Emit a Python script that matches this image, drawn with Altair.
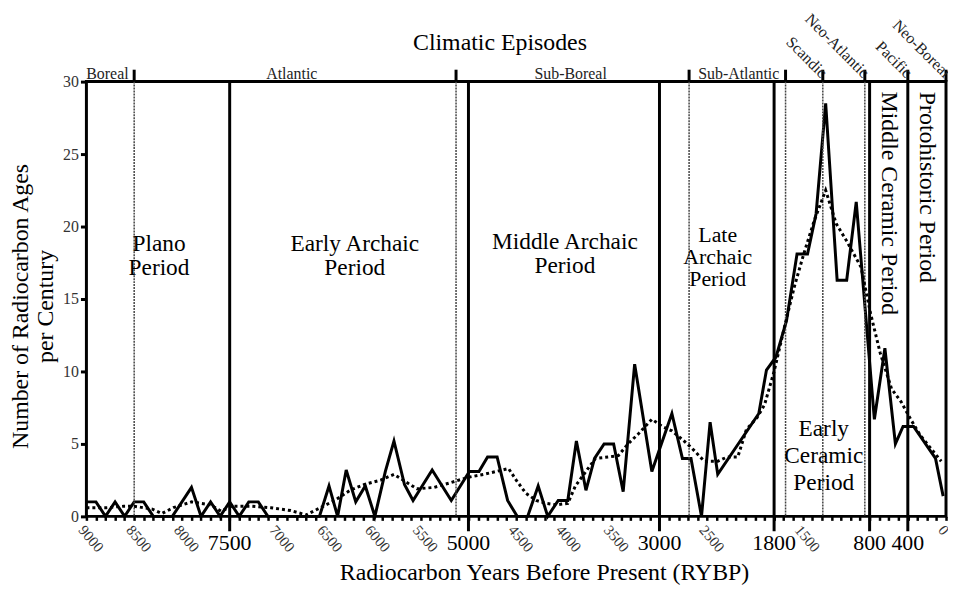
import altair as alt
import pandas as pd

SERIF = "Liberation Serif"

# ---- data ----
solid_years = [9000, 8900, 8800, 8700, 8600, 8500, 8400, 8300, 8100, 7900, 7800, 7700, 7600,
               7500, 7400, 7300, 7200, 7100, 6560, 6460, 6370, 6280, 6180, 6080, 5980, 5870,
               5780, 5670, 5580, 5380, 5180, 4990, 4890, 4800, 4700, 4590, 4490, 4380, 4270,
               4170, 4060, 3960, 3870, 3770, 3680, 3580, 3480, 3380, 3260, 3080, 2870, 2760,
               2670, 2560, 2470, 2390, 1960, 1880, 1780, 1670, 1560, 1450, 1360, 1260, 1140,
               1040, 940, 750, 640, 530, 450, 340, 110, 30]
solid_values = [1, 1, 0, 1, 0, 1, 1, 0, 0, 2, 0, 1, 0,
                1, 0, 1, 1, 0, 0, 2.1, 0, 3.2, 1.0, 2.1, 0, 3.1,
                5.2, 2.2, 1.1, 3.2, 1.1, 3.1, 3.1, 4.1, 4.1, 1.1, 0, 0, 2.1,
                0, 1.1, 1.1, 5.2, 1.8, 4.0, 5.0, 5.0, 1.7, 10.5, 3.1, 7.1, 4.0,
                4.0, 0, 6.5, 2.9, 7.1, 10.1, 11.0, 13.5, 18.1, 18.1, 20.9, 28.5, 16.3,
                16.3, 21.7, 6.7, 11.6, 5.0, 6.2, 6.2, 4.0, 1.4]

trend_years = [9000, 8790, 8610, 8500, 8310, 8210, 8090, 7900, 7700, 7590, 7480, 7270, 7070,
               6860, 6700, 6550, 6400, 6240, 6090, 5920, 5780, 5660, 5540, 5360, 5200, 5000,
               4840, 4710, 4580, 4500, 4400, 4290, 4190, 4080, 3960, 3880, 3770, 3670, 3530,
               3430, 3330, 3220, 3080, 2970, 2870, 2760, 2660, 2530, 2390, 2290, 2180, 2090,
               1980, 1900, 1800, 1690, 1590, 1490, 1380, 1260, 1150, 1040, 890, 790, 690,
               570, 470, 370, 270, 160, 50]
trend_values = [0.6, 0.6, 0.7, 0.7, 0.5, 0.2, 0.6, 1.0, 0.8, 0.35, 0.7, 0.7, 0.6,
                0.4, 0.1, 0.6, 1.1, 1.8, 2.2, 2.5, 2.9, 2.4, 1.9, 2.0, 2.3, 2.7,
                2.9, 3.1, 3.3, 2.5, 1.6, 1.1, 0.9, 0.8, 0.9, 2.1, 3.1, 4.0, 4.1,
                4.2, 5.0, 5.7, 6.7, 6.2, 5.9, 5.3, 4.7, 3.8, 3.8, 4.1, 4.1, 6.0,
                6.8, 7.7, 10.0, 13.1, 15.8, 18.1, 20.4, 22.5, 20.2, 19.0, 17.2, 14.0, 11.3,
                8.8, 7.9, 6.7, 5.6, 4.7, 3.8]

period_bounds = [7500, 5000, 3000, 1800, 800, 400]          # solid lines, big labels
climate_bounds = [8500, 5130, 2690, 1680, 1290, 850]        # dotted lines
climate_ticks = [8500, 5130, 2690, 1680, 1290, 850, 400, 0]
minor_label_years = [9000, 8500, 8000, 7000, 6500, 6000, 5500, 4500, 4000, 3500, 2500, 1500, 0]
y_ticks = [0, 5, 10, 15, 20, 25, 30]

climate_names = ["Boreal", "Atlantic", "Sub-Boreal", "Sub-Atlantic"]
climate_name_years = [8780, 6850, 3930, 2170]
climate_rot_names = ["Scandic", "Neo-Atlantic", "Pacific", "Neo-Boreal"]
climate_rot_years = [1290, 850, 400, 0]
header_text = ["Climatic Episodes"]
header_year = [4670]

period_names = ["Plano\nPeriod", "Early Archaic\nPeriod", "Middle Archaic\nPeriod"]
period_years = [8240, 6190, 3990]
period_vals = [18.8, 18.8, 18.95]
late_name = ["Late\nArchaic\nPeriod"]
late_year = [2390]
late_val = [19.4]
ceramic_name = ["Early\nCeramic\nPeriod"]
ceramic_year = [1280]
ceramic_val = [6.0]
rot_period_names = ["Middle Ceramic Period", "Protohistoric Period"]
rot_period_years = [600, 200]
rot_period_vals = [21.6, 22.7]

W, H = 866, 438

solid = pd.DataFrame({"yr": solid_years, "v": solid_values})
trend = pd.DataFrame({"yr": trend_years, "v": trend_values})

xscale = alt.Scale(domain=[0, 9000], reverse=True, nice=False, zero=False)
yscale = alt.Scale(domain=[0, 30], nice=False)

label_test = "indexof([" + ",".join(str(v) for v in minor_label_years) + "], datum.value) >= 0 ? datum.label : ''"

x_axis = alt.Axis(values=list(range(0, 9001, 100)), format="d", tickSize=4, tickWidth=2.5,
                  tickColor="black", labelExpr=label_test, labelAngle=50, labelAlign="left",
                  labelBaseline="top", labelFontSize=15, labelFont=SERIF, labelColor="#333",
                  labelPadding=2, labelOverlap=False, labelFlush=False, domain=False, grid=False,
                  title="Radiocarbon Years Before Present (RYBP)", titleFont=SERIF,
                  titleFontSize=24, titleFontWeight="normal", titleColor="black",
                  titleX=461, titleY=57, titleAlign="center", titleBaseline="middle")
y_axis = alt.Axis(values=y_ticks, tickSize=6, tickWidth=3, tickColor="black",
                  labelFontSize=16, labelFont=SERIF, labelColor="#333", labelPadding=2,
                  domain=False, grid=False,
                  title=["Number of Radiocarbon Ages", "per Century"], titleFont=SERIF,
                  titleFontSize=24, titleFontWeight="normal", titleColor="black",
                  titleX=-66, titleY=226, titleAlign="center", titleBaseline="middle",
                  titleLineHeight=25)


def X(field):
    return alt.X(field, scale=xscale, axis=x_axis)


def Y(field):
    return alt.Y(field, scale=yscale, axis=y_axis)


def period_layer(names, years, vals, size, line_height):
    return alt.Chart(pd.DataFrame({"yr": years, "v": vals, "t": names})).mark_text(
        font=SERIF, fontSize=size, color="black", baseline="middle", align="center",
        lineBreak="\n", lineHeight=line_height).encode(x=X("yr:Q"), y=Y("v:Q"), text="t:N")


solid_line = alt.Chart(solid).mark_line(color="black", strokeWidth=3, strokeJoin="miter").encode(
    x=X("yr:Q"), y=Y("v:Q"))
trend_line = alt.Chart(trend).mark_line(color="black", strokeWidth=3, strokeDash=[3, 3]).encode(
    x=X("yr:Q"), y=Y("v:Q"))

vdot = alt.Chart(pd.DataFrame({"yr": climate_bounds})).mark_rule(
    color="#444", strokeWidth=1.5, strokeDash=[2, 1]).encode(x=X("yr:Q"))

vsolid = alt.Chart(pd.DataFrame({"yr": period_bounds, "top": 30, "bot": 0})).mark_rule(
    color="black", strokeWidth=3, y2Offset=15).encode(x=X("yr:Q"), y=Y("top:Q"), y2="bot:Q")

ctick = alt.Chart(pd.DataFrame({"yr": climate_ticks, "top": 30})).mark_rule(
    color="black", strokeWidth=3, yOffset=-12).encode(x=X("yr:Q"), y=Y("top:Q"), y2="top:Q")

major_lbl = alt.Chart(pd.DataFrame({"yr": period_bounds, "bot": 0})).mark_text(
    font=SERIF, fontSize=22, color="black", baseline="alphabetic", align="center", yOffset=34).encode(
    x=X("yr:Q"), y=Y("bot:Q"), text=alt.Text("yr:Q", format="d"))

clim_lbl = alt.Chart(pd.DataFrame({"yr": climate_name_years, "top": 30, "t": climate_names})).mark_text(
    font=SERIF, fontSize=16, color="#222", baseline="alphabetic", align="center", yOffset=-3).encode(
    x=X("yr:Q"), y=Y("top:Q"), text="t:N")

clim_rot = alt.Chart(pd.DataFrame({"yr": climate_rot_years, "top": 30, "t": climate_rot_names})).mark_text(
    font=SERIF, fontSize=16, color="#222", baseline="alphabetic", align="right", angle=45,
    xOffset=-2, yOffset=-3).encode(x=X("yr:Q"), y=Y("top:Q"), text="t:N")

header = alt.Chart(pd.DataFrame({"yr": header_year, "top": 30, "t": header_text})).mark_text(
    font=SERIF, fontSize=24, color="black", baseline="middle", align="center", yOffset=-39).encode(
    x=X("yr:Q"), y=Y("top:Q"), text="t:N")

per_lbl = period_layer(period_names, period_years, period_vals, 23.5, 24)
late_lbl = period_layer(late_name, late_year, late_val, 22, 22)
cer_lbl = period_layer(ceramic_name, ceramic_year, ceramic_val, 23.5, 27)

rot_lbl = alt.Chart(pd.DataFrame({"yr": rot_period_years, "v": rot_period_vals, "t": rot_period_names})).mark_text(
    font=SERIF, fontSize=24, color="black", baseline="middle", align="center", angle=90).encode(
    x=X("yr:Q"), y=Y("v:Q"), text="t:N")

chart = alt.layer(
    solid_line, vdot, vsolid, ctick, major_lbl, clim_lbl, clim_rot, header, per_lbl, late_lbl,
    cer_lbl, rot_lbl, trend_line
).properties(
    width=W, height=H,
    autosize=alt.AutoSizeParams(type="none"),
    padding={"left": 79, "top": 72, "right": 2, "bottom": 70},
    background="white",
).configure_view(stroke="black", strokeWidth=3)

chart.save("out.html", embed_options={"renderer": "svg", "actions": False})
